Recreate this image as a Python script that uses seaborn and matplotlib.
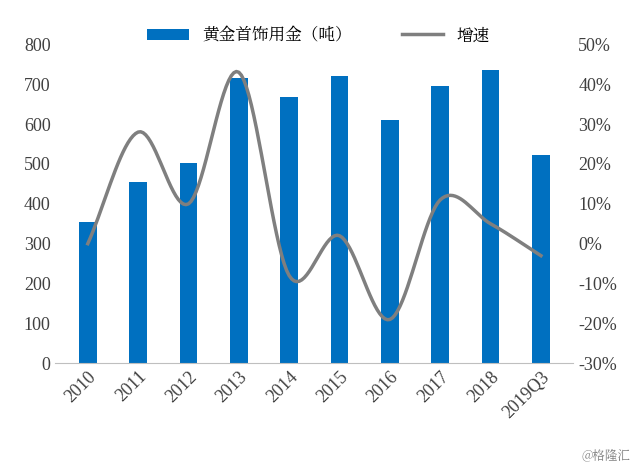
import numpy as np
import pandas as pd
import matplotlib.pyplot as plt
import seaborn as sns
from matplotlib import font_manager
from matplotlib.ticker import FuncFormatter

years = ['2010', '2011', '2012', '2013', '2014', '2015', '2016', '2017', '2018', '2019Q3']
jewelry = [355, 455, 502, 715, 668, 720, 610, 695, 735, 522]
growth = [0.0, 28.0, 10.0, 43.0, -8.0, 2.0, -19.0, 11.0, 5.0, -3.0]


def smooth(xs, ys, n=20):
    # Catmull-Rom curve through the points, like Excel's smoothed line
    xs = np.asarray(xs, float)
    ys = np.asarray(ys, float)
    px = np.concatenate([[2 * xs[0] - xs[1]], xs, [2 * xs[-1] - xs[-2]]])
    py = np.concatenate([[2 * ys[0] - ys[1]], ys, [2 * ys[-1] - ys[-2]]])
    ox, oy = [], []
    t = np.linspace(0, 1, n, endpoint=False)
    for i in range(1, len(px) - 2):
        for p, o in ((px, ox), (py, oy)):
            p0, p1, p2, p3 = p[i - 1], p[i], p[i + 1], p[i + 2]
            o.extend(0.5 * (2 * p1 + (-p0 + p2) * t + (2 * p0 - 5 * p1 + 4 * p2 - p3) * t ** 2
                            + (-p0 + 3 * p1 - 3 * p2 + p3) * t ** 3))
    ox.append(xs[-1])
    oy.append(ys[-1])
    return np.array(ox), np.array(oy)


cjk = [f.name for f in font_manager.fontManager.ttflist if 'CJK' in f.name]
cjk_font = cjk[0] if cjk else 'DejaVu Sans'
plt.rcParams['font.family'] = ['Liberation Serif', cjk_font]
df = pd.DataFrame({'year': years, 'value': jewelry})

fig, ax = plt.subplots(figsize=(6.37, 4.67), dpi=100)
fig.subplots_adjust(left=0.087, right=0.9, top=0.905, bottom=0.222)
sns.barplot(data=df, x='year', y='value', color='#0070C0', saturation=1, width=0.35, ax=ax,
            label='黄金首饰用金（吨）')
ax.set_ylim(0, 800)
ax.set_yticks(range(0, 801, 100))
ax.set_xlabel('')
ax.set_ylabel('')
ax.tick_params(axis='x', rotation=45, length=0, labelsize=13, colors='#404040')
for lbl in ax.get_xticklabels():
    lbl.set_ha('right')
    lbl.set_rotation_mode('anchor')
ax.tick_params(axis='y', length=0, labelsize=13, colors='#404040')
for s in ['top', 'right', 'left']:
    ax.spines[s].set_visible(False)
ax.spines['bottom'].set_color('#bfbfbf')

ax2 = ax.twinx()
sx, sy = smooth(range(len(years)), growth)
ax2.plot(sx, sy, color='#7f7f7f', lw=2.5, label='增速')
ax2.set_ylim(-30, 50)
ax2.set_yticks(range(-30, 51, 10))
ax2.yaxis.set_major_formatter(FuncFormatter(lambda v, p: f'{int(v)}%'))
ax2.tick_params(axis='y', length=0, labelsize=13, colors='#404040')
for s in ['top', 'right', 'left', 'bottom']:
    ax2.spines[s].set_visible(False)

h1, l1 = ax.get_legend_handles_labels()
h2, l2 = ax2.get_legend_handles_labels()
if ax.get_legend():
    ax.get_legend().remove()
fig.legend(h1 + h2, l1 + l2, loc='upper center', bbox_to_anchor=(0.5, 0.975), ncol=2,
           frameon=False, prop={'family': cjk_font, 'size': 12},
           handlelength=2.5, columnspacing=3)
fig.text(0.99, 0.01, '@格隆汇', ha='right', va='bottom', fontsize=9, color='#808080',
         family=cjk_font)
plt.savefig('out.png')
